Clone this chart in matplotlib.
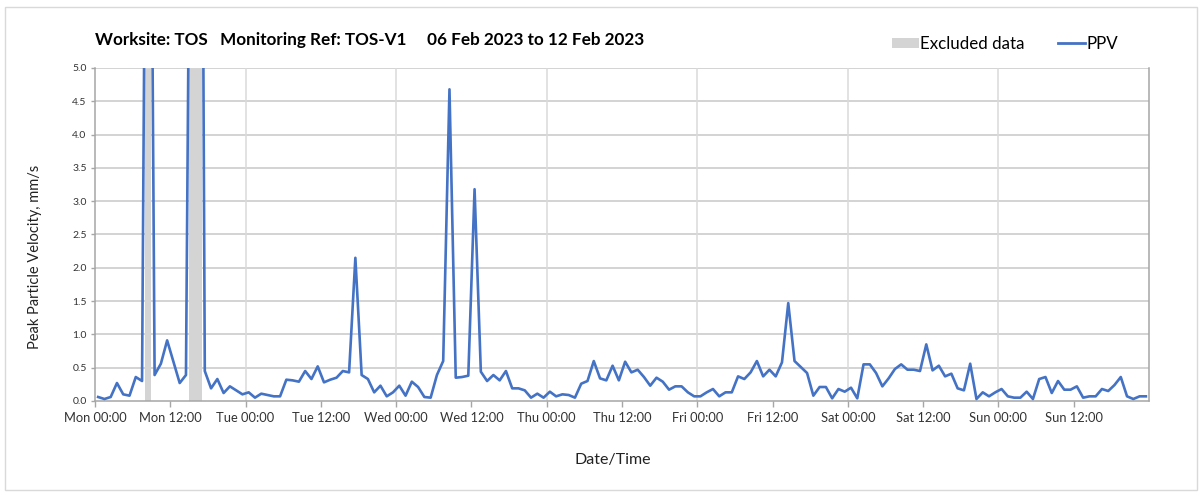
import matplotlib
matplotlib.use("Agg")
import matplotlib.pyplot as plt
from matplotlib.patches import Patch, Rectangle
from matplotlib.lines import Line2D
import numpy as np

# hourly peak values, Mon 00:30 .. Sun 23:30 (mm/s)
ppv_mon = [0.06, 0.03, 0.06, 0.27, 0.10, 0.08, 0.36, 0.30, 15.0, 0.39, 0.56, 0.91,
           0.59, 0.27, 0.39, 13.0, 21.0, 0.45, 0.19, 0.33, 0.12, 0.22, 0.16, 0.10]
ppv_tue = [0.13, 0.05, 0.11, 0.09, 0.07, 0.07, 0.32, 0.31, 0.29, 0.45, 0.33, 0.52,
           0.28, 0.32, 0.35, 0.45, 0.43, 2.15, 0.39, 0.33, 0.13, 0.23, 0.07, 0.13]
ppv_wed = [0.23, 0.08, 0.29, 0.21, 0.06, 0.05, 0.39, 0.60, 4.68, 0.35, 0.36, 0.38,
           3.18, 0.44, 0.30, 0.39, 0.31, 0.45, 0.19, 0.19, 0.16, 0.05, 0.11, 0.05]
ppv_thu = [0.14, 0.07, 0.10, 0.09, 0.05, 0.26, 0.30, 0.60, 0.34, 0.31, 0.53, 0.31,
           0.59, 0.43, 0.47, 0.36, 0.23, 0.35, 0.29, 0.17, 0.22, 0.22, 0.13, 0.07]
ppv_fri = [0.07, 0.13, 0.18, 0.07, 0.13, 0.13, 0.37, 0.33, 0.43, 0.60, 0.37, 0.47,
           0.37, 0.58, 1.47, 0.60, 0.51, 0.42, 0.08, 0.21, 0.21, 0.04, 0.18, 0.14]
ppv_sat = [0.20, 0.04, 0.55, 0.55, 0.42, 0.22, 0.34, 0.48, 0.55, 0.47, 0.47, 0.45,
           0.85, 0.46, 0.53, 0.37, 0.41, 0.19, 0.16, 0.56, 0.03, 0.13, 0.07, 0.13]
ppv_sun = [0.18, 0.07, 0.05, 0.05, 0.14, 0.03, 0.33, 0.36, 0.12, 0.30, 0.17, 0.17,
           0.22, 0.05, 0.07, 0.07, 0.18, 0.15, 0.24, 0.36, 0.07, 0.03, 0.07, 0.07]
ppv = ppv_mon + ppv_tue + ppv_wed + ppv_thu + ppv_fri + ppv_sat + ppv_sun

excluded_hours = [8, 15, 16]   # hour index of excluded readings

tick_labels = ["Mon 00:00", "Mon 12:00", "Tue 00:00", "Tue 12:00", "Wed 00:00", "Wed 12:00",
               "Thu 00:00", "Thu 12:00", "Fri 00:00", "Fri 12:00", "Sat 00:00", "Sat 12:00",
               "Sun 00:00", "Sun 12:00"]
y_ticks = [0.0, 0.5, 1.0, 1.5, 2.0, 2.5, 3.0, 3.5, 4.0, 4.5, 5.0]

title = "Worksite: TOS   Monitoring Ref: TOS-V1     06 Feb 2023 to 12 Feb 2023"

plt.rcParams['font.family'] = ['Lato', 'DejaVu Sans']

blue = '#4472C4'
grey_band = '#D4D4D4'

fig = plt.figure(figsize=(12.03, 4.93), dpi=100)
ax = fig.add_axes([95 / 1203, 1 - 401 / 493, (1149 - 95) / 1203, (401 - 68) / 493])

hours = np.arange(len(ppv)) + 0.5
ymax = 5.0

# grey bands behind the excluded readings
ax.bar([hours[i] for i in excluded_hours], [ymax] * len(excluded_hours), width=1.0,
       color=grey_band, zorder=2, linewidth=0)
ax.plot(hours, ppv, color=blue, linewidth=1.9, zorder=3)

ax.set_xlim(0, 168)
ax.set_ylim(0, ymax)

ax.set_yticks(y_ticks)
ax.set_yticklabels([f"{v:.1f}" for v in y_ticks], fontsize=7.5, color='#333333')
ax.set_xticks(np.arange(0, 168, 12))
ax.set_xticklabels(tick_labels, fontsize=9.3, color='#333333')

ax.tick_params(axis='x', length=4, width=1, color='#A6A6A6', pad=4)
ax.tick_params(axis='y', length=3, width=1, color='#A6A6A6', pad=3)

for y in y_ticks[1:]:
    ax.axhline(y, color='#D0D0D0', linewidth=1.3, zorder=1)
for d in range(1, 7):
    ax.axvline(d * 24, color='#DADADA', linewidth=1.1, zorder=1)

for side in ['left', 'bottom', 'right']:
    ax.spines[side].set_color('#A6A6A6')
    ax.spines[side].set_linewidth(1.1)
ax.spines['top'].set_visible(False)

fig.text(95 / 1203, 1 - 40 / 493, title, fontsize=12.3, fontweight='bold', va='center', ha='left')
fig.text(35 / 1203, 1 - 257 / 493, "Peak Particle Velocity, mm/s", rotation=90,
         fontsize=10.5, va='center', ha='center', color='#222222')
fig.text(613 / 1203, 1 - 460 / 493, "Date/Time", fontsize=11.5, va='center', ha='center', color='#222222')

handles = [Patch(facecolor=grey_band, edgecolor='none'),
           Line2D([0], [0], color=blue, linewidth=2.0)]
fig.legend(handles, ["Excluded data", "PPV"], loc='center left',
           bbox_to_anchor=(880 / 1203, 1 - 44 / 493), ncol=2, frameon=False,
           fontsize=12.2, handlelength=1.6, handletextpad=0.05, columnspacing=2.0,
           handleheight=0.6, borderpad=0.2)

fig.patches.append(Rectangle((5 / 1203, 3 / 493), 1192 / 1203, 483 / 493, transform=fig.transFigure,
                             fill=False, edgecolor='#D9D9D9', linewidth=1.0))

fig.savefig("out.png", dpi=100, facecolor='white')
